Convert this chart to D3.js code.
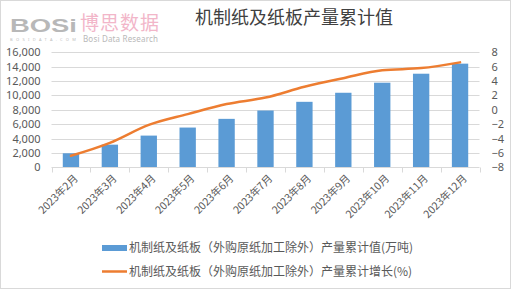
<!DOCTYPE html>
<html>
<head>
<meta charset="utf-8">
<script src="https://cdn.jsdelivr.net/npm/d3@7"></script>
<style>
  body { margin: 0; background: #fff; }
  svg { display: block; }
</style>
</head>
<body>
<div id="chart"></div>
<script>
// Data
const months = ['2023年2月', '2023年3月', '2023年4月', '2023年5月', '2023年6月', '2023年7月',
  '2023年8月', '2023年9月', '2023年10月', '2023年11月', '2023年12月'];
const cumValue = [1950, 3150, 4410, 5530, 6740, 7900, 9110, 10370, 11770, 13020, 14420];
const cumGrowth = [-6.4, -4.6, -2.1, -0.6, 0.8, 1.7, 3.2, 4.4, 5.5, 5.8, 6.6];
const leftTicks = [0, 2000, 4000, 6000, 8000, 10000, 12000, 14000, 16000];
const rightTicks = [-8, -6, -4, -2, 0, 2, 4, 6, 8];
const title = '机制纸及纸板产量累计值';
const seriesNames = ['机制纸及纸板（外购原纸加工除外）产量累计值(万吨)', '机制纸及纸板（外购原纸加工除外）产量累计增长(%)'];

const W = 511, H = 291;
const plot = { left: 51.5, right: 479.5, top: 52.3, bottom: 167.3 };
const BLUE = '#5b9bd5', ORANGE = '#ed7d31';
const numFont = '"Noto Sans", "DejaVu Sans", sans-serif';
const cjkFont = '"Noto Sans CJK SC", "Noto Sans", sans-serif';

const svg = d3.select('#chart').append('svg')
  .attr('width', W)
  .attr('height', H);

svg.append('rect')
  .attr('x', 0.5).attr('y', 0.5)
  .attr('width', W - 1).attr('height', H - 3)
  .attr('fill', '#fff')
  .attr('stroke', '#d9d9d9');

// Watermark logo
const logo = svg.append('g');
logo.append('text').attr('x', 10).attr('y', 32)
  .attr('font-family', '"Liberation Sans", sans-serif').attr('font-weight', 'bold')
  .attr('font-size', 18).attr('fill', '#b8b8b8')
  .attr('textLength', 67).attr('lengthAdjust', 'spacingAndGlyphs')
  .text('BOSi');
logo.append('text').attr('x', 10).attr('y', 40.5)
  .attr('font-family', numFont).attr('font-size', 4).attr('fill', '#c0c0c0')
  .attr('textLength', 66).text('BOSIDATA.COM');
logo.append('text').attr('x', 80).attr('y', 29.5)
  .attr('font-family', cjkFont).attr('font-size', 19).attr('fill', '#f2b6c9')
  .attr('textLength', 79).text('博思数据');
logo.append('text').attr('x', 83).attr('y', 42)
  .attr('font-family', numFont).attr('font-size', 8).attr('fill', '#b8b8b8')
  .attr('textLength', 75).text('Bosi Data Research');

// Title
svg.append('text')
  .attr('x', 294).attr('y', 24)
  .attr('text-anchor', 'middle')
  .attr('font-family', cjkFont).attr('font-size', 18)
  .attr('fill', '#404040')
  .text(title);

// Scales
const x = d3.scaleBand()
  .domain(months)
  .range([plot.left, plot.right])
  .paddingInner(0.58)
  .paddingOuter(0.29);
const yLeft = d3.scaleLinear().domain([0, 16000]).range([plot.bottom, plot.top]);
const yRight = d3.scaleLinear().domain([-8, 8]).range([plot.bottom, plot.top]);
const step = (plot.right - plot.left) / months.length;

// Gridlines
svg.append('g')
  .selectAll('line')
  .data(leftTicks.slice(1))
  .join('line')
  .attr('x1', plot.left).attr('x2', plot.right)
  .attr('y1', d => Math.round(yLeft(d)) + 0.5)
  .attr('y2', d => Math.round(yLeft(d)) + 0.5)
  .attr('stroke', '#d9d9d9');

// Left axis labels
const yAxisL = d3.axisLeft(yLeft).tickValues(leftTicks).tickSize(0).tickPadding(0);
svg.append('g')
  .attr('transform', `translate(${plot.left - 11},0)`)
  .call(yAxisL)
  .call(g => g.select('.domain').remove())
  .selectAll('text')
  .attr('font-family', numFont).attr('font-size', 11).attr('fill', '#595959');

// Right axis labels
const yAxisR = d3.axisRight(yRight).tickValues(rightTicks).tickSize(0).tickPadding(0);
svg.append('g')
  .attr('transform', `translate(${plot.right + 12},0)`)
  .call(yAxisR)
  .call(g => g.select('.domain').remove())
  .selectAll('text')
  .attr('font-family', numFont).attr('font-size', 11).attr('fill', '#595959');

// Bars
svg.append('g')
  .selectAll('rect')
  .data(cumValue)
  .join('rect')
  .attr('x', (d, i) => x(months[i]))
  .attr('y', d => yLeft(d))
  .attr('width', x.bandwidth())
  .attr('height', d => plot.bottom - yLeft(d))
  .attr('fill', BLUE);

// Category axis
const axisY = Math.round(plot.bottom) + 0.5;
svg.append('line')
  .attr('x1', plot.left).attr('x2', plot.right)
  .attr('y1', axisY).attr('y2', axisY)
  .attr('stroke', '#d9d9d9');
svg.append('g')
  .selectAll('line')
  .data(d3.range(months.length + 1))
  .join('line')
  .attr('x1', i => Math.round(plot.left + i * step) + 0.5)
  .attr('x2', i => Math.round(plot.left + i * step) + 0.5)
  .attr('y1', axisY).attr('y2', axisY + 5)
  .attr('stroke', '#d9d9d9');

svg.append('g')
  .selectAll('text')
  .data(months)
  .join('text')
  .attr('transform', d => `translate(${x(d) + x.bandwidth() / 2 + 5},${axisY + 9}) rotate(-45)`)
  .attr('text-anchor', 'end')
  .attr('dy', '0.35em')
  .attr('font-family', cjkFont).attr('font-size', 10.5).attr('fill', '#595959')
  .text(d => d);

// Growth line
const line = d3.line()
  .x((d, i) => x(months[i]) + x.bandwidth() / 2)
  .y(d => yRight(d))
  .curve(d3.curveMonotoneX);
svg.append('path')
  .datum(cumGrowth)
  .attr('d', line)
  .attr('fill', 'none')
  .attr('stroke', ORANGE)
  .attr('stroke-width', 2.5)
  .attr('stroke-linecap', 'round');

// Legend
const legend = svg.append('g');
legend.append('rect')
  .attr('x', 102).attr('y', 245).attr('width', 25).attr('height', 6)
  .attr('fill', BLUE);
legend.append('line')
  .attr('x1', 102).attr('x2', 127).attr('y1', 271.5).attr('y2', 271.5)
  .attr('stroke', ORANGE).attr('stroke-width', 2.5);
legend.selectAll('text')
  .data(seriesNames)
  .join('text')
  .attr('x', 129)
  .attr('y', (d, i) => 248 + i * 23.5)
  .attr('dy', '0.35em')
  .attr('font-family', cjkFont).attr('font-size', 12).attr('fill', '#595959')
  .text(d => d);
</script>
</body>
</html>
